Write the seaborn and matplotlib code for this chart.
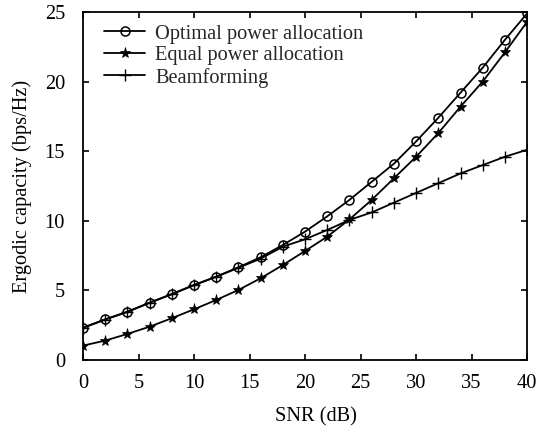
import matplotlib
matplotlib.use("Agg")
import matplotlib.pyplot as plt
import seaborn as sns
import pandas as pd

snr = [0, 2, 4, 6, 8, 10, 12, 14, 16, 18, 20, 22, 24, 26, 28, 30, 32, 34, 36, 38, 40]
optimal = [2.32, 2.92, 3.47, 4.12, 4.74, 5.39, 5.99, 6.66, 7.38, 8.26, 9.22, 10.32,
           11.5, 12.8, 14.1, 15.7, 17.4, 19.2, 21.0, 23.0, 24.9]
equal = [1.03, 1.39, 1.87, 2.39, 3.0, 3.64, 4.31, 5.03, 5.87, 6.82, 7.83, 8.86,
         10.1, 11.5, 13.05, 14.6, 16.3, 18.2, 20.0, 22.1, 24.3]
beam = [2.3, 2.9, 3.45, 4.1, 4.72, 5.37, 5.97, 6.62, 7.28, 8.14, 8.67, 9.34,
        10.06, 10.6, 11.3, 12.0, 12.7, 13.4, 14.0, 14.6, 15.1]
labels = ["Optimal power allocation", "Equal power allocation", "Beamforming"]
xticks = [0, 5, 10, 15, 20, 25, 30, 35, 40]
yticks = [0, 5, 10, 15, 20, 25]

sns.set_theme(style="ticks")
plt.rcParams['font.family'] = ['Liberation Serif', 'DejaVu Serif']

fig = plt.figure(figsize=(5.39, 4.28), dpi=100)
ax = fig.add_axes([0.154, 0.159, 0.824, 0.813])

styles = [
    dict(marker='o', markersize=6.5, markerfacecolor='none', markeredgewidth=1.1),
    dict(marker='*', markersize=8, markerfacecolor='black', markeredgewidth=0.5),
    dict(marker='+', markersize=9, markeredgewidth=1.0),
]
for ys, lab, st in zip([optimal, equal, beam], labels, styles):
    df = pd.DataFrame({"SNR": snr, "C": ys})
    sns.lineplot(data=df, x="SNR", y="C", ax=ax, color='black', linewidth=1.3,
                 label=lab, markeredgecolor='black', **st)

FS = 14.7
ax.set_xlim(0, 40)
ax.set_ylim(0, 25)
ax.set_xticks(xticks)
ax.set_yticks(yticks)
ax.tick_params(direction='in', top=True, right=True, length=4, width=1.2,
               labelsize=FS, colors='black')
ax.tick_params(axis='x', pad=10)
ax.tick_params(axis='y', pad=13)
ax.set_xlabel("SNR (dB)", fontsize=FS, color='black')
ax.set_ylabel("Ergodic capacity (bps/Hz)", fontsize=FS, color='black')
ax.xaxis.set_label_coords(0.525, -0.135)
ax.yaxis.set_label_coords(-0.115, 0.5)
for s in ax.spines.values():
    s.set_linewidth(1.3)
    s.set_color('black')

ax.legend(loc='upper left', frameon=False, fontsize=FS, handlelength=2.0,
          labelspacing=0.12, handletextpad=0.5, borderaxespad=0.2,
          bbox_to_anchor=(0.02, 1.0))

fig.savefig("out.png", dpi=100)
